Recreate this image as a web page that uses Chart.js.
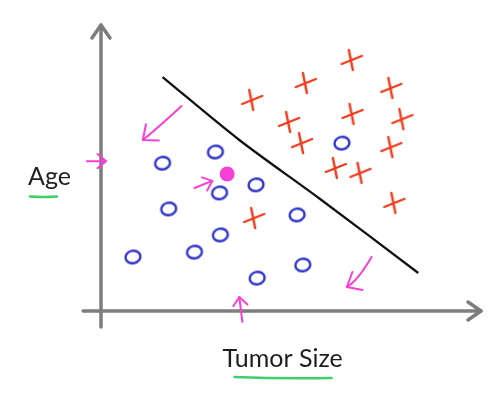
<!DOCTYPE html>
<html>
<head>
<meta charset="utf-8">
<script src="https://cdn.jsdelivr.net/npm/chart.js@4/dist/chart.umd.min.js"></script>
<style>
html,body{margin:0;padding:0;background:#fff;}
#wrap{width:494px;height:397px;}
</style>
</head>
<body>
<div id="wrap"><canvas id="c" width="494" height="397"></canvas></div>
<script>
// ---- data (Tumor Size on x, Age on y, arbitrary units 0..10) ----
const benignX = [6.34, 1.62, 3.01, 4.08, 3.12, 1.78, 5.16, 3.14, 2.46, 0.84, 5.31, 4.11];
const benignY = [5.87, 5.17, 5.56, 4.41, 4.13, 3.57, 3.36, 2.66, 2.06, 1.89, 1.61, 1.15];
const malignantX = [6.60, 5.39, 3.98, 7.64, 4.95, 6.62, 7.93, 5.29, 7.64, 6.18, 6.83, 7.72, 4.03];
const malignantY = [8.78, 7.97, 7.38, 7.80, 6.61, 6.89, 6.71, 5.87, 5.73, 5.00, 4.83, 3.78, 3.25];
const queryX = [3.32];
const queryY = [4.79];
const boundaryX = [1.62, 3.64, 5.73, 8.35];
const boundaryY = [8.18, 5.98, 3.95, 1.33];
// annotation arrows (ctrl null = straight)
const arrowFromX = [2.12, -0.37, 2.46, 3.72, 7.12];
const arrowFromY = [7.17, 5.24, 4.30, -0.38, 1.89];
const arrowCtrlX = [1.45, null, null, null, 6.75];
const arrowCtrlY = [6.35, null, null, null, 1.05];
const arrowToX = [1.10, 0.13, 2.93, 3.64, 6.47];
const arrowToY = [5.98, 5.24, 4.55, 0.49, 0.84];
const xLabel = "Tumor Size";
const yLabel = "Age";

const toPts = (xs, ys) => xs.map((x, i) => ({x: x, y: ys[i]}));

// hand-drawn style point glyphs
function ellipseGlyph() {
  const c = document.createElement('canvas');
  c.width = 20; c.height = 17;
  const g = c.getContext('2d');
  g.strokeStyle = '#2f33c9'; g.lineWidth = 2.4;
  g.beginPath(); g.ellipse(10, 8.5, 7.5, 6.2, -0.2, 0, Math.PI * 2); g.stroke();
  return c;
}
function crossGlyph() {
  const c = document.createElement('canvas');
  c.width = 26; c.height = 26;
  const g = c.getContext('2d');
  g.strokeStyle = '#f03c1c'; g.lineWidth = 2.4; g.lineCap = 'round';
  g.beginPath(); g.moveTo(3, 17); g.lineTo(23, 9); g.stroke();
  g.beginPath(); g.moveTo(10, 3); g.lineTo(14, 23); g.stroke();
  return c;
}

const PINK = '#f83fd6';
const GRAY = '#7d7d7d';

const decor = {
  id: 'decor',
  beforeDatasetsDraw(chart) {
    const ctx = chart.ctx, xs = chart.scales.x, ys = chart.scales.y;
    ctx.save();
    ctx.strokeStyle = GRAY; ctx.lineWidth = 3.5; ctx.lineCap = 'round'; ctx.lineJoin = 'round';
    const ax = xs.getPixelForValue(0);
    const yTop = ys.getPixelForValue(10), yBot = ys.getPixelForValue(-0.56);
    ctx.beginPath(); ctx.moveTo(ax, yBot); ctx.lineTo(ax, yTop); ctx.stroke();
    ctx.beginPath(); ctx.moveTo(ax - 9, yTop + 13); ctx.lineTo(ax, yTop); ctx.lineTo(ax + 9, yTop + 13); ctx.stroke();
    const ay = ys.getPixelForValue(0);
    const xL = xs.getPixelForValue(-0.47), xR = xs.getPixelForValue(10);
    ctx.beginPath(); ctx.moveTo(xL, ay); ctx.lineTo(xR, ay); ctx.stroke();
    ctx.beginPath(); ctx.moveTo(xR - 13, ay - 9); ctx.lineTo(xR, ay); ctx.lineTo(xR - 13, ay + 9); ctx.stroke();
    ctx.restore();
  },
  afterDatasetsDraw(chart) {
    const ctx = chart.ctx, xs = chart.scales.x, ys = chart.scales.y;
    ctx.save();
    ctx.strokeStyle = PINK; ctx.lineWidth = 2; ctx.lineCap = 'round'; ctx.lineJoin = 'round';
    for (let i = 0; i < arrowFromX.length; i++) {
      const fx = xs.getPixelForValue(arrowFromX[i]), fy = ys.getPixelForValue(arrowFromY[i]);
      const tx = xs.getPixelForValue(arrowToX[i]), ty = ys.getPixelForValue(arrowToY[i]);
      let dirx, diry;
      ctx.beginPath(); ctx.moveTo(fx, fy);
      if (arrowCtrlX[i] !== null) {
        const cx = xs.getPixelForValue(arrowCtrlX[i]), cy = ys.getPixelForValue(arrowCtrlY[i]);
        ctx.quadraticCurveTo(cx, cy, tx, ty);
        dirx = tx - cx; diry = ty - cy;
      } else {
        ctx.lineTo(tx, ty);
        dirx = tx - fx; diry = ty - fy;
      }
      ctx.stroke();
      const ang = Math.atan2(diry, dirx);
      const L = i === 0 || i === 4 ? 16 : 11, spread = 0.7;
      ctx.beginPath();
      ctx.moveTo(tx - L * Math.cos(ang - spread), ty - L * Math.sin(ang - spread));
      ctx.lineTo(tx, ty);
      ctx.lineTo(tx - L * Math.cos(ang + spread), ty - L * Math.sin(ang + spread));
      ctx.stroke();
    }
    const ca = chart.chartArea;
    ctx.fillStyle = '#1e1e1e';
    ctx.font = '25px Lato, "Open Sans", sans-serif';
    ctx.textBaseline = 'alphabetic';
    ctx.textAlign = 'left';
    const ageBase = ys.getPixelForValue(4.42);
    ctx.fillText(yLabel, ca.left - 73, ageBase);
    ctx.textAlign = 'center';
    const midX = xs.getPixelForValue(4.78);
    ctx.fillText(xLabel, midX, ca.bottom + 56);
    ctx.strokeStyle = '#3fcf6c'; ctx.lineWidth = 2.5; ctx.lineCap = 'round';
    const uy = ageBase + 12;
    ctx.beginPath(); ctx.moveTo(ca.left - 71, uy); ctx.quadraticCurveTo(ca.left - 58, uy + 1, ca.left - 44, uy); ctx.stroke();
    const ty2 = ca.bottom + 66;
    ctx.beginPath(); ctx.moveTo(midX - 48, ty2); ctx.quadraticCurveTo(midX, ty2 + 2, midX + 49, ty2 + 1); ctx.stroke();
    ctx.restore();
  }
};

new Chart(document.getElementById('c'), {
  type: 'scatter',
  data: {
    datasets: [
      { label: 'boundary', data: toPts(boundaryX, boundaryY), showLine: true, borderColor: '#111', borderWidth: 2.3,
        pointRadius: 0, tension: 0.3, fill: false, clip: false },
      { label: 'benign', data: toPts(benignX, benignY), pointStyle: ellipseGlyph(), pointRadius: 8, clip: false },
      { label: 'malignant', data: toPts(malignantX, malignantY), pointStyle: crossGlyph(), pointRadius: 12, clip: false },
      { label: 'query', data: toPts(queryX, queryY), pointStyle: 'circle', pointRadius: 7.5,
        backgroundColor: PINK, borderColor: PINK, borderWidth: 0, clip: false }
    ]
  },
  options: {
    responsive: false,
    animation: false,
    layout: { padding: { left: 101, right: 11, top: 25, bottom: 86 } },
    plugins: { legend: { display: false }, tooltip: { enabled: false } },
    scales: {
      x: { type: 'linear', min: 0, max: 10, display: false },
      y: { type: 'linear', min: 0, max: 10, display: false }
    }
  },
  plugins: [decor]
});
</script>
</body>
</html>
